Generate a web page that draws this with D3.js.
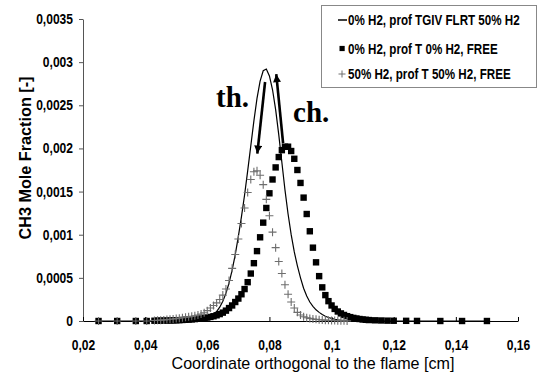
<!DOCTYPE html>
<html>
<head>
<meta charset="utf-8">
<script src="https://cdn.jsdelivr.net/npm/d3@7"></script>
<style>
  body { margin: 0; background: #fff; }
  text { font-family: "Liberation Sans", Arial, sans-serif; }
</style>
</head>
<body>
<svg id="chart" width="540" height="380"></svg>
<script>
// mesh points (cm): coarse on the outside, 0.001 step through the flame
const xGrid = [0.025, 0.031, 0.037, 0.0405, 0.043,
  0.044, 0.045, 0.046, 0.047, 0.048, 0.049,
  0.050, 0.051, 0.052, 0.053, 0.054, 0.055, 0.056, 0.057, 0.058, 0.059,
  0.060, 0.061, 0.062, 0.063, 0.064, 0.065, 0.066, 0.067, 0.068, 0.069,
  0.070, 0.071, 0.072, 0.073, 0.074, 0.075, 0.076, 0.077, 0.078, 0.079,
  0.080, 0.081, 0.082, 0.083, 0.084, 0.085, 0.086, 0.087, 0.088, 0.089,
  0.090, 0.091, 0.092, 0.093, 0.094, 0.095, 0.096, 0.097, 0.098, 0.099,
  0.100, 0.101, 0.102, 0.103, 0.104, 0.105, 0.106, 0.107, 0.108, 0.109,
  0.110, 0.111, 0.112,
  0.114, 0.116, 0.118, 0.120, 0.124, 0.1275, 0.135, 0.142, 0.150]

// 0% H2, prof TGIV FLRT 50% H2 (thin line)
const yTgiv = [0, 0, 0, 0, 0,
  0, 0, 0, 0.000001, 0.000002, 0.000003,
  0.000004, 0.000005, 0.000005, 0.000006, 0.000008, 0.00001, 0.000012, 0.000016, 0.000022, 0.00003,
  0.00004, 0.000055, 0.000075, 0.00011, 0.00016, 0.00023, 0.00032, 0.00044, 0.00059, 0.00077,
  0.00098, 0.00121, 0.00146, 0.00174, 0.00203, 0.00232, 0.00258, 0.00278, 0.0029, 0.00292,
  0.00284, 0.00268, 0.00245, 0.00216, 0.00184, 0.00152, 0.00124, 0.001, 0.0008, 0.00064,
  0.0005, 0.00038, 0.00029, 0.00022, 0.00017, 0.00013, 0.0001, 0.000075, 0.000055, 0.00004,
  0.00003, 0.00002, 0.000014, 0.00001, 0.000007, 0.000005, 0.000004, 0.000003, 0.000002, 0.000001,
  0, 0, 0,
  0, 0, 0, 0, 0, 0, 0, 0, 0]

// 0% H2, prof T 0% H2, FREE (black squares)
const yFree0 = [0, 0, 0, 0, 0.000003,
  0.000004, 0.000004, 0.000005, 0.000005, 0.000006, 0.000007,
  0.000008, 0.00001, 0.000012, 0.000014, 0.000016, 0.000019, 0.000022, 0.000026, 0.00003, 0.000035,
  0.00004, 0.000047, 0.000055, 0.000066, 0.00008, 0.000097, 0.00012, 0.00015, 0.00018, 0.00022,
  0.00026, 0.00031, 0.00037, 0.00045, 0.00055, 0.00067, 0.00081, 0.00097, 0.00114, 0.00131,
  0.00148, 0.00164, 0.00178, 0.0019, 0.00198, 0.00202, 0.00202, 0.00197, 0.00188, 0.00175,
  0.0016, 0.00143, 0.00124, 0.00104, 0.00085, 0.00068, 0.00052, 0.00039, 0.0003, 0.00023,
  0.00018, 0.00014, 0.00011, 0.000088, 0.00007, 0.000056, 0.000045, 0.000036, 0.000029, 0.000023,
  0.000018, 0.000014, 0.000011,
  0.000008, 0.000006, 0.000004, 0.000003, 0.000002, 0.000001, 0, 0, 0]

// 50% H2, prof T 50% H2, FREE (grey crosses)
const yFree50 = [0, 0, 0, 0, 0.000005,
  0.000008, 0.00001, 0.000013, 0.000016, 0.00002, 0.000024,
  0.000028, 0.000033, 0.000038, 0.000043, 0.000048, 0.000054, 0.000061, 0.00007, 0.00008, 0.000095,
  0.00012, 0.00015, 0.00018, 0.00021, 0.00025, 0.0003, 0.00037, 0.00047, 0.00061, 0.00077,
  0.00095, 0.00113, 0.00131, 0.00149, 0.00164, 0.00173, 0.00174, 0.00169, 0.00158, 0.00141,
  0.00122, 0.00103, 0.00085, 0.00069, 0.00055, 0.00042, 0.00031, 0.00022, 0.00015, 0.0001,
  0.00007, 0.00005, 0.000038, 0.00003, 0.000024, 0.000019, 0.000015, 0.000012, 0.00001, 0.000008,
  0.000006, 0.000005, 0.000004, 0.000003, 0.000002, 0.000001, null, null, null, null,
  null, null, null,
  null, null, null, null, null, null, null, null, null]

const seriesNames = ['0% H2, prof TGIV FLRT 50% H2', '0% H2, prof T 0% H2, FREE', '50% H2, prof T 50% H2, FREE']
const xTicks = [0.02, 0.04, 0.06, 0.08, 0.1, 0.12, 0.14, 0.16]
const xTickLabels = ['0,02', '0,04', '0,06', '0,08', '0,1', '0,12', '0,14', '0,16']
const yTicks = [0, 0.0005, 0.001, 0.0015, 0.002, 0.0025, 0.003, 0.0035]
const yTickLabels = ['0', '0,0005', '0,001', '0,0015', '0,002', '0,0025', '0,003', '0,0035']

// annotation arrows [from, to] and their labels
const arrowTh = [[0.0786, 0.00277], [0.0761, 0.00194]]
const arrowCh = [[0.0844, 0.00206], [0.0822, 0.00286]]
const labelTh = { text: 'th.', x: 0.0628, y: 0.00248 }
const labelCh = { text: 'ch.', x: 0.0876, y: 0.00231 }

// the source picture has narrow, tall lettering: squeeze text horizontally
function squeeze(sel, factor) {
    sel.each(function () {
        let w = this.getComputedTextLength()
        d3.select(this)
            .attr('textLength', w * factor)
            .attr('lengthAdjust', 'spacingAndGlyphs')
    })
}

let svg = d3.select('#chart')
svg.append('rect').attr('width', 540).attr('height', 380).attr('fill', '#fff')

let xScale = d3.scaleLinear().domain([0.02, 0.16]).range([83, 518])
let yScale = d3.scaleLinear().domain([0, 0.0035]).range([321, 19])

//axes
let xAxis = d3.axisBottom(xScale)
    .tickValues(xTicks)
    .tickFormat((d, i) => xTickLabels[i])
    .tickSizeInner(-4)
    .tickSizeOuter(0)
    .tickPadding(19)
let yAxis = d3.axisLeft(yScale)
    .tickValues(yTicks)
    .tickFormat((d, i) => yTickLabels[i])
    .tickSize(4)
    .tickSizeOuter(0)
    .tickPadding(6)

let gy = svg.append('g')
    .attr('transform', `translate(${xScale(0.02)}, 0)`)
    .call(yAxis)
gy.select('.domain').attr('stroke', '#555')
gy.selectAll('.tick line').attr('stroke', '#555')
gy.selectAll('text').style('font-size', '14px').style('font-weight', 'bold').attr('fill', '#000')
    .call(squeeze, 0.86)

let gx = svg.append('g')
    .attr('transform', `translate(0, ${yScale(0)})`)
    .call(xAxis)
gx.select('.domain').attr('stroke', '#000')
gx.selectAll('text').style('font-size', '14px').style('font-weight', 'bold').attr('fill', '#000')
    .call(squeeze, 0.86)

//axis titles
svg.append('text')
    .attr('x', 313)
    .attr('y', 369)
    .attr('text-anchor', 'middle')
    .style('font-size', '17px')
    .attr('textLength', 283)
    .attr('lengthAdjust', 'spacingAndGlyphs')
    .text('Coordinate orthogonal to the flame [cm]')
svg.append('text')
    .attr('transform', `translate(31, 158) rotate(-90)`)
    .attr('text-anchor', 'middle')
    .style('font-size', '17px')
    .style('font-weight', 'bold')
    .attr('textLength', 163)
    .attr('lengthAdjust', 'spacingAndGlyphs')
    .text('CH3 Mole Fraction [-]')

//series
let plot = svg.append('g')
let pts = xGrid.map((x, i) => ({ x: x, a: yTgiv[i], b: yFree0[i], c: yFree50[i] }))

plot.append('path')
    .datum(pts)
    .attr('fill', 'none')
    .attr('stroke', '#000')
    .attr('stroke-width', 1.2)
    .attr('d', d3.line().x(d => xScale(d.x)).y(d => yScale(d.a)))

let sq = 6.4
plot.selectAll('.sq')
    .data(pts)
    .enter()
    .append('rect')
    .attr('class', 'sq')
    .attr('x', d => xScale(d.x) - sq / 2)
    .attr('y', d => yScale(d.b) - sq / 2)
    .attr('width', sq)
    .attr('height', sq)
    .attr('fill', '#000')

let crossPath = 'M-4,0H4M0,-4V4'
plot.selectAll('.cross')
    .data(pts.filter(d => d.c != null))
    .enter()
    .append('path')
    .attr('class', 'cross')
    .attr('transform', d => `translate(${xScale(d.x)}, ${yScale(d.c)})`)
    .attr('d', crossPath)
    .attr('stroke', '#6e6e6e')
    .attr('stroke-width', 1.1)
    .attr('fill', 'none')

//arrows
svg.append('defs').append('marker')
    .attr('id', 'head')
    .attr('markerUnits', 'userSpaceOnUse')
    .attr('viewBox', '0 0 10 10')
    .attr('refX', 10)
    .attr('refY', 5)
    .attr('markerWidth', 11)
    .attr('markerHeight', 8)
    .attr('orient', 'auto')
    .append('path')
    .attr('d', 'M0,0L10,5L0,10Z')
    .attr('fill', '#000')

for (let a of [arrowTh, arrowCh]) {
    svg.append('line')
        .attr('x1', xScale(a[0][0]))
        .attr('y1', yScale(a[0][1]))
        .attr('x2', xScale(a[1][0]))
        .attr('y2', yScale(a[1][1]))
        .attr('stroke', '#000')
        .attr('stroke-width', 2.6)
        .attr('marker-end', 'url(#head)')
}
for (let l of [labelTh, labelCh]) {
    svg.append('text')
        .attr('x', xScale(l.x))
        .attr('y', yScale(l.y))
        .style('font-family', '"Liberation Serif", "Times New Roman", serif')
        .style('font-size', '29px')
        .style('font-weight', 'bold')
        .text(l.text)
}

//legend
let legend = svg.append('g')
legend.append('rect')
    .attr('x', 321.5)
    .attr('y', 5.5)
    .attr('width', 215)
    .attr('height', 82)
    .attr('fill', '#fff')
    .attr('stroke', '#888')
let rowY = [20, 48.5, 74]
legend.append('line')
    .attr('x1', 338).attr('x2', 347)
    .attr('y1', rowY[0]).attr('y2', rowY[0])
    .attr('stroke', '#000').attr('stroke-width', 1.5)
legend.append('rect')
    .attr('x', 339.5).attr('y', rowY[1] - 2.6)
    .attr('width', 5.2).attr('height', 5.2)
    .attr('fill', '#000')
legend.append('path')
    .attr('transform', `translate(342, ${rowY[2]})`)
    .attr('d', 'M-3.5,0H3.5M0,-3.5V3.5')
    .attr('stroke', '#6e6e6e')
    .attr('fill', 'none')
// narrow the legend lettering with a transform so its box stays inside the frame
legend.selectAll('.ltext')
    .data(seriesNames)
    .enter()
    .append('text')
    .attr('transform', (d, i) => `translate(348, ${rowY[i]}) scale(0.83, 1)`)
    .attr('dy', '0.36em')
    .style('font-size', '14px')
    .style('font-weight', 'bold')
    .text(d => d)
</script>
</body>
</html>
